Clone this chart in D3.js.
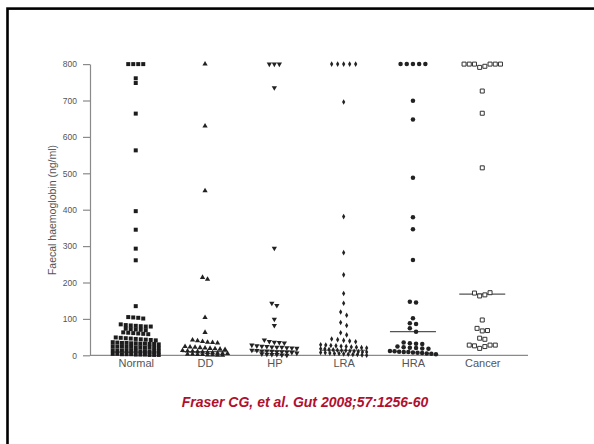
<!DOCTYPE html>
<html><head><meta charset="utf-8">
<script src="https://cdn.jsdelivr.net/npm/d3@7"></script>
<style>body{margin:0;background:#fff} svg{display:block}</style>
</head><body><svg id="c" width="594" height="444"></svg>
<script>
const categories = ["Normal","DD","HP","LRA","HRA","Cancer"];
const normalValues = [800,800,800,800,761,748,664,563,396,345,293,261,135,
  105,104,103,101,
  85,83,82,81,80,79,79,
  73,72,71,70,69,
  63,62,61,60,59,58,
  49,48,47,46,45,44,43,42,41,
  36,35,34,34,33,33,32,32,31,31,30,
  25,24,24,23,23,22,22,21,21,20,20,
  14,13,13,12,12,12,11,11,10,10,10,
  4,4,3,3,3,2,2,2,1,1,1];
const ddValues = [800,630,452,214,209,104,63,
  42,40,38,36,35,34,
  24,23,22,21,20,19,18,17,16,
  13,12,11,10,9,8,7,6,5,5,
  3,3,2,2,1,1,0,0];
const hpValues = [800,800,800,735,294,143,137,99,82,
  42,38,36,35,34,
  28,26,25,24,23,22,22,21,20,19,
  14,13,12,12,11,10,10,9,8,6,
  4,3,2,2,1,0];
const lraValues = [800,800,800,800,800,696,381,282,221,170,143,119,110,90,82,62,56,
  45,43,41,39,37,
  29,28,27,26,25,24,23,22,21,20,
  18,17,16,15,14,13,13,12,11,10,9,9,
  8,7,6,5,5,4,3,2,2,1,0];
const hraValues = [800,800,800,800,800,699,648,488,379,346,262,147,145,102,88,86,74,65,
  35,33,32,31,
  24,22,21,20,19,18,
  12,11,10,9,9,8,7,6,5,4,3];
const cancerValues = [800,800,800,791,794,800,800,800,726,665,515,
  171,163,166,172,97,74,67,68,47,44,28,26,19,24,28,28];
const medians = [9, 10, 12, 14, 65, 168];
const yTicks = [0,100,200,300,400,500,600,700,800];
const yTitle = "Faecal haemoglobin (ng/ml)";
const caption = "Fraser CG, et al. Gut 2008;57:1256-60";

const seriesValues = [normalValues, ddValues, hpValues, lraValues, hraValues, cancerValues];
const styles = [
  {sym: d3.symbolSquare, size: 16, fill: "#1c1c1c", stroke: "none", pitch: 5, rot: 0},
  {sym: d3.symbolTriangle, size: 12, fill: "#222", stroke: "none", pitch: 5, rot: 0},
  {sym: d3.symbolTriangle, size: 12, fill: "#222", stroke: "none", pitch: 5, rot: 180},
  {sym: d3.symbolDiamond, size: 9, fill: "#222", stroke: "none", pitch: 6, rot: 0},
  {sym: d3.symbolCircle, size: 16, fill: "#222", stroke: "none", pitch: 6.2, rot: 0},
  {sym: d3.symbolSquare, size: 16, fill: "#fff", stroke: "#333", pitch: 5.2, rot: 0}
];

const svg = d3.select("#c");
svg.append("rect").attr("x",0).attr("y",0).attr("width",594).attr("height",444).attr("fill","#fff");
svg.append("rect").attr("x",7.5).attr("y",8.6).attr("width",620).attr("height",470)
  .attr("fill","none").attr("stroke","#000").attr("stroke-width",2.6);

const y = d3.scaleLinear().domain([0,800]).range([355.3, 64.1]);
const x = d3.scalePoint().domain(categories).range([90, 528]).padding(0.66);

// y axis
const yAxis = d3.axisLeft(y).tickValues(yTicks).tickSize(7).tickPadding(6).tickSizeOuter(0);
const gy = svg.append("g").attr("transform","translate(90,0)").call(yAxis);
gy.select(".domain").attr("stroke","#8a8a8a").attr("stroke-width",1.2);
gy.selectAll(".tick line").attr("stroke","#8a8a8a").attr("stroke-width",1.2);
gy.selectAll(".tick text").attr("fill","#555").attr("font-size","8.5px")
  .attr("font-family","Arial, 'Liberation Sans', sans-serif");

// x axis
const gx = svg.append("g").attr("transform","translate(0,355.3)")
  .call(d3.axisBottom(x).tickSize(0).tickPadding(4).tickSizeOuter(0));
gx.select(".domain").attr("d","M90,0H528").attr("stroke","#8a8a8a").attr("stroke-width",1.2);
gx.selectAll(".tick text").attr("fill","#555").attr("font-size","11px")
  .attr("font-family","Arial, 'Liberation Sans', sans-serif");

// y title
svg.append("text").attr("transform","translate(56,210) rotate(-90)")
  .attr("text-anchor","middle").attr("font-size","10.5px").attr("fill","#555")
  .attr("font-family","Arial, 'Liberation Sans', sans-serif").text(yTitle);

// median lines
svg.append("g").selectAll("line").data(medians).join("line")
  .attr("x1",(d,i)=>x(categories[i])-23).attr("x2",(d,i)=>x(categories[i])+23)
  .attr("y1",d=>y(d)).attr("y2",d=>y(d))
  .attr("stroke","#555").attr("stroke-width",1.1);

// row layout (Prism-like)
const binUnits = 10, maxWidth = 46;
function layout(values, pitch){
  const idx = values.map((v,i)=>i).sort((a,b)=>values[b]-values[a]);
  const rows = []; let cur = null;
  for (const i of idx){
    if (!cur || values[cur.start]-values[i] >= binUnits){ cur = {start:i, items:[]}; rows.push(cur); }
    cur.items.push(i);
  }
  const off = new Array(values.length).fill(0);
  for (const r of rows){
    r.items.sort((a,b)=>a-b);
    const n = r.items.length;
    const p = n>1 ? Math.min(pitch, maxWidth/(n-1)) : 0;
    r.items.forEach((it,k)=>{ off[it] = (k-(n-1)/2)*p; });
  }
  return off;
}

seriesValues.forEach((vals,gi)=>{
  const st = styles[gi];
  const off = layout(vals, st.pitch);
  const pts = vals.map((v,i)=>({v, dx: off[i]}));
  svg.append("g").selectAll("path").data(pts).join("path")
    .attr("d", d3.symbol().type(st.sym).size(st.size)())
    .attr("transform", d=>`translate(${x(categories[gi])+d.dx},${y(d.v)}) rotate(${st.rot})`)
    .attr("fill", st.fill).attr("stroke", st.stroke).attr("stroke-width", st.stroke==="none"?0:1);
});

// caption
svg.append("text").attr("x",305).attr("y",407).attr("text-anchor","middle")
  .attr("font-family","Arial, 'Liberation Sans', sans-serif").attr("font-size","14px")
  .attr("font-weight","bold").attr("font-style","italic").attr("fill","#b0102e").text(caption);
</script></body></html>
